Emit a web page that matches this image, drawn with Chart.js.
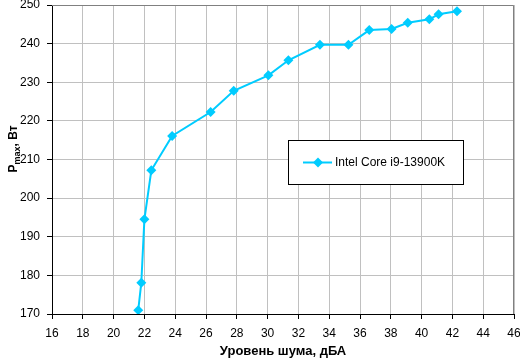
<!DOCTYPE html>
<html>
<head>
<meta charset="utf-8">
<script src="https://cdn.jsdelivr.net/npm/chart.js@4/dist/chart.umd.min.js"></script>
<style>
  body { margin: 0; background: #fff; }
  #wrap { width: 520px; height: 359px; }
</style>
</head>
<body>
<div id="wrap"><canvas id="myChart" width="520" height="359"></canvas></div>
<script>
// chart data
const seriesName = "Intel Core i9-13900K";
const noiseLevel = [21.6, 21.8, 22.0, 22.45, 23.8, 26.3, 27.8, 30.05, 31.35, 33.4, 35.25, 36.6, 38.05, 39.1, 40.5, 41.1, 42.3];
const powerMax = [171, 178.1, 194.5, 207.2, 216.1, 222.3, 227.8, 231.8, 235.7, 239.7, 239.7, 243.5, 243.8, 245.4, 246.3, 247.6, 248.4];
const xTitle = "Уровень шума, дБА";
const yTitleMain = "P";
const yTitleSub = "max";
const yTitleRest = ", Вт";

const lineColor = "rgb(0, 204, 255)";
const font = "'Liberation Sans', Arial, sans-serif";

// draws top/right frame, the y title with subscript and the legend box
const extrasPlugin = {
  id: "extras",
  afterDraw(chart) {
    const c = chart.ctx;
    const a = chart.chartArea;
    c.save();
    // grey frame on top and right
    c.strokeStyle = "#808080";
    c.lineWidth = 1;
    c.beginPath();
    c.moveTo(a.left, a.top + 0.5);
    c.lineTo(a.right - 0.5, a.top + 0.5);
    c.lineTo(a.right - 0.5, a.bottom);
    c.stroke();

    // y axis title (P with subscript "max")
    c.translate(17, 149);
    c.rotate(-Math.PI / 2);
    c.fillStyle = "#000";
    c.textAlign = "left";
    c.textBaseline = "alphabetic";
    c.font = "bold 12px " + font;
    const w1 = c.measureText(yTitleMain).width;
    c.font = "bold 9px " + font;
    const w2 = c.measureText(yTitleSub).width;
    c.font = "bold 12px " + font;
    const w3 = c.measureText(yTitleRest).width;
    let x = -(w1 + w2 + w3) / 2;
    c.fillText(yTitleMain, x, 0);
    x += w1;
    c.font = "bold 9px " + font;
    c.fillText(yTitleSub, x, 3);
    x += w2;
    c.font = "bold 12px " + font;
    c.fillText(yTitleRest, x, 0);
    c.restore();

    // legend box
    c.save();
    const bx = 288.5, by = 140.5, bw = 175, bh = 44;
    c.fillStyle = "#fff";
    c.fillRect(bx, by, bw, bh);
    c.strokeStyle = "#000";
    c.lineWidth = 1;
    c.strokeRect(bx, by, bw, bh);
    const ly = by + bh / 2;
    c.strokeStyle = lineColor;
    c.lineWidth = 2;
    c.beginPath();
    c.moveTo(303, ly);
    c.lineTo(332, ly);
    c.stroke();
    c.fillStyle = lineColor;
    c.beginPath();
    c.moveTo(318, ly - 5);
    c.lineTo(323, ly);
    c.lineTo(318, ly + 5);
    c.lineTo(313, ly);
    c.closePath();
    c.fill();
    c.fillStyle = "#000";
    c.font = "12px " + font;
    c.textAlign = "left";
    c.textBaseline = "middle";
    c.fillText(seriesName, 335, ly);
    c.restore();
  }
};

// drop the extra room Chart.js keeps for half tick labels
function fixScale(scale, size, horizontal) {
  if (horizontal) scale.height = size;
  else scale.width = size;
  scale.paddingTop = 0;
  scale.paddingBottom = 0;
  scale.paddingLeft = 0;
  scale.paddingRight = 0;
}

const points = noiseLevel.map((v, i) => ({ x: v, y: powerMax[i] }));

new Chart(document.getElementById("myChart").getContext("2d"), {
  type: "scatter",
  data: {
    datasets: [
      {
        label: seriesName,
        data: points,
        showLine: true,
        borderColor: lineColor,
        backgroundColor: lineColor,
        borderWidth: 2,
        pointStyle: "rectRot",
        pointRadius: 5,
        pointHoverRadius: 5,
        pointBorderWidth: 0,
        tension: 0,
      },
    ],
  },
  options: {
    responsive: false,
    animation: false,
    layout: { padding: { top: 5, right: 6, left: 0, bottom: 0 } },
    plugins: {
      legend: { display: false },
      tooltip: { enabled: false },
    },
    scales: {
      x: {
        type: "linear",
        min: 16,
        max: 46,
        ticks: { stepSize: 2, color: "#000", font: { family: font, size: 12 }, padding: 7, maxRotation: 0 },
        grid: { color: "#C0C0C0", tickColor: "#000", tickLength: 5 },
        border: { color: "#000" },
        title: { display: true, text: xTitle, color: "#000", font: { family: font, size: 13, weight: "bold" }, padding: { top: 0, bottom: 0 } },
        afterFit(scale) { fixScale(scale, 45, true); },
      },
      y: {
        min: 170,
        max: 250,
        ticks: { stepSize: 10, color: "#000", font: { family: font, size: 12 }, padding: 7 },
        grid: { color: "#C0C0C0", tickColor: "#000", tickLength: 5 },
        border: { color: "#000" },
        afterFit(scale) { fixScale(scale, 52, false); },
      },
    },
  },
  plugins: [extrasPlugin],
});
</script>
</body>
</html>
